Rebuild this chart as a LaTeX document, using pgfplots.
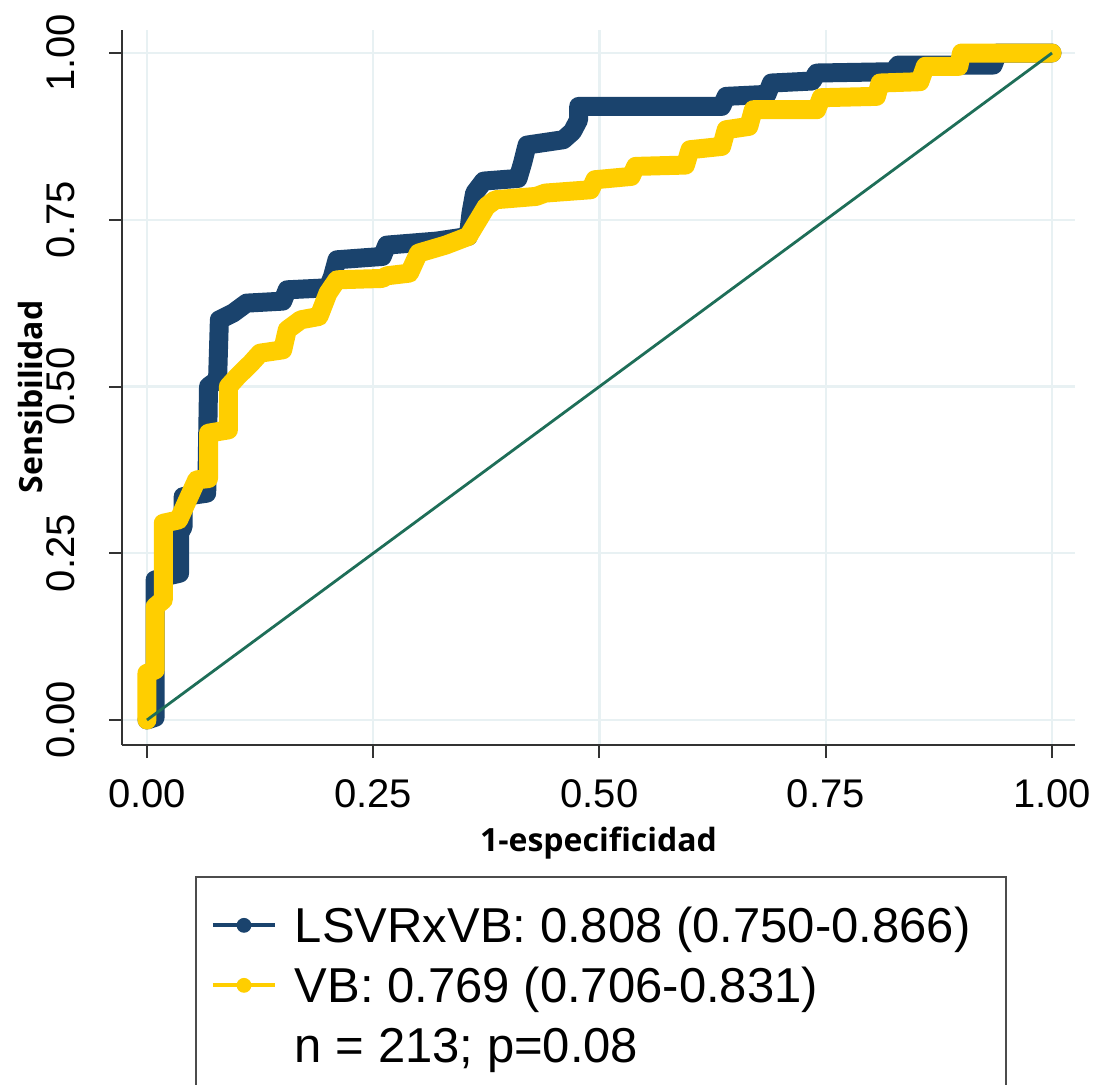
\documentclass[border=0pt]{standalone}
\usepackage{fontspec}
\setmainfont{Liberation Sans}
\newfontfamily\titlefont{Open Sans}
\usepackage{pgfplots}
\usepackage{pgfplotstable}
\pgfplotsset{compat=1.18}

\definecolor{rocNavy}{RGB}{26,67,109}
\definecolor{rocGold}{RGB}{255,206,0}
\definecolor{rocGreen}{RGB}{30,110,88}
\definecolor{gridBlue}{RGB}{232,241,243}

% LSVRxVB curve (1-specificity, sensitivity)
\pgfplotstableread{
x y
0 0
0.009 0.004
0.009 0.21
0.02 0.215
0.036 0.22
0.036 0.28
0.04 0.29
0.04 0.335
0.066 0.34
0.068 0.5
0.078 0.51
0.08 0.6
0.095 0.61
0.11 0.625
0.15 0.628
0.155 0.645
0.2 0.648
0.205 0.665
0.21 0.69
0.26 0.695
0.265 0.712
0.32 0.718
0.355 0.725
0.358 0.76
0.362 0.79
0.372 0.808
0.41 0.812
0.415 0.835
0.42 0.862
0.46 0.87
0.47 0.882
0.477 0.9
0.477 0.92
0.635 0.92
0.64 0.935
0.685 0.938
0.69 0.955
0.735 0.958
0.74 0.97
0.825 0.972
0.83 0.982
0.935 0.982
0.94 1
1 1
}\lsvr

% VB curve
\pgfplotstableread{
x y
0 0
0 0.07
0.009 0.075
0.009 0.17
0.018 0.18
0.018 0.295
0.035 0.3
0.045 0.33
0.055 0.36
0.068 0.362
0.068 0.43
0.09 0.435
0.09 0.5
0.1 0.515
0.115 0.535
0.125 0.55
0.15 0.555
0.155 0.585
0.17 0.6
0.19 0.605
0.2 0.64
0.21 0.66
0.26 0.662
0.265 0.666
0.29 0.67
0.3 0.7
0.33 0.712
0.355 0.725
0.375 0.77
0.385 0.78
0.43 0.785
0.44 0.79
0.49 0.795
0.495 0.81
0.535 0.815
0.54 0.83
0.595 0.832
0.6 0.855
0.635 0.86
0.64 0.885
0.665 0.89
0.67 0.915
0.74 0.915
0.745 0.933
0.806 0.935
0.81 0.955
0.854 0.957
0.86 0.98
0.897 0.98
0.9 1
1 1
}\vb

\begin{document}
\begin{tikzpicture}
\begin{axis}[
  at={(0,0)}, anchor=south west,
  scale only axis, width=476.5pt, height=357.5pt,
  xmin=-0.0276, xmax=1.0254, ymin=-0.0375, ymax=1.0345,
  axis x line*=bottom, axis y line*=left,
  axis line style={line width=1pt, black!80},
  xtick={0,0.25,0.5,0.75,1}, ytick={0,0.25,0.5,0.75,1},
  tick align=outside, major tick length=6.5pt,
  tick style={line width=1pt, black!80},
  grid=major, major grid style={line width=1.2pt, gridBlue},
  tick label style={font=\fontsize{20}{24}\selectfont,
    /pgf/number format/fixed, /pgf/number format/fixed zerofill,
    /pgf/number format/precision=2, /pgf/number format/assume math mode=true},
  xticklabel style={yshift=-7pt},
  yticklabel style={xshift=-13.5pt, rotate=90, anchor=south},
  xlabel={1-especificidad}, ylabel={Sensibilidad},
  xlabel style={at={(axis description cs:0.5,-0.137)}, anchor=center,
    font=\titlefont\bfseries\fontsize{16}{19}\selectfont},
  ylabel style={at={(axis description cs:-0.0965,0.487)}, anchor=center,
    font=\titlefont\bfseries\fontsize{16}{19}\selectfont},
  legend cell align=left,
  legend style={at={(axis description cs:0.0766,-0.183)}, anchor=north west,
    draw=black!70, line width=1pt, fill=white,
    inner xsep=7.5pt, inner ysep=10pt, row sep=1.5pt, column sep=9pt,
    font=\fontsize{24.5}{29}\selectfont,
    nodes={inner sep=0pt, text height=23pt, text depth=5.5pt}},
]
\addplot[forget plot, rocNavy, line width=9.5pt, line join=round, line cap=round]
  table[x=x, y=y] {\lsvr};
\addplot[forget plot, rocGold, line width=9.5pt, line join=round, line cap=round]
  table[x=x, y=y] {\vb};
\addplot[forget plot, rocGreen, line width=1.4pt] coordinates {(0,0) (1,1)};

\addlegendimage{legend image code/.code={
  \draw[rocNavy, line width=2pt] (0pt,0pt) -- (31pt,0pt);
  \fill[rocNavy] (15.5pt,0pt) circle (3.2pt);}}
\addlegendentry{\makebox[348pt][l]{LSVRxVB: 0.808 (0.750-0.866)}}
\addlegendimage{legend image code/.code={
  \draw[rocGold, line width=2pt] (0pt,0pt) -- (31pt,0pt);
  \fill[rocGold] (15.5pt,0pt) circle (3.2pt);}}
\addlegendentry{VB: 0.769 (0.706-0.831)}
\addlegendimage{empty legend}
\addlegendentry{n = 213; p=0.08}
\end{axis}
\pgfresetboundingbox
\path[use as bounding box] (-61pt,-169.5pt) rectangle (489pt,372.5pt);
\end{tikzpicture}
\end{document}
